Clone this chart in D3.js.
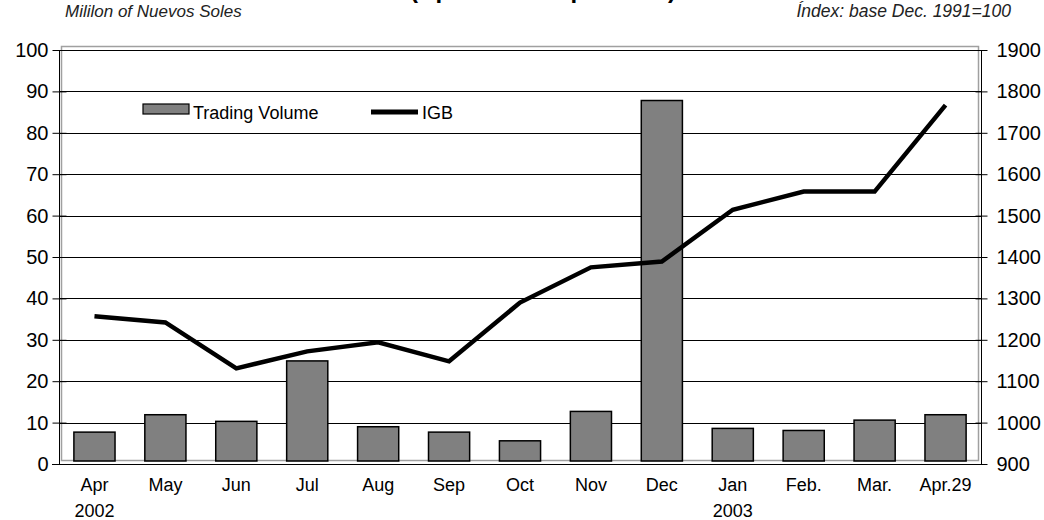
<!DOCTYPE html>
<html>
<head>
<meta charset="utf-8">
<script src="https://cdn.jsdelivr.net/npm/d3@7"></script>
<style>
    body { margin: 0; background: #fff; }
    text { font-family: Arial, "Liberation Sans", sans-serif; }
</style>
</head>
<body>
<script>
//chart data
var months = ["Apr", "May", "Jun", "Jul", "Aug", "Sep", "Oct", "Nov", "Dec", "Jan", "Feb.", "Mar.", "Apr.29"];
var years = ["2002", "", "", "", "", "", "", "", "", "2003", "", "", ""];
var volume = [7.7, 11.9, 10.3, 24.9, 9.0, 7.7, 5.6, 12.7, 87.8, 8.6, 8.1, 10.6, 11.9];
var igb = [1257, 1242, 1131, 1172, 1194, 1148, 1290, 1375, 1389, 1514, 1558, 1558, 1767];
var leftTicks = [0, 10, 20, 30, 40, 50, 60, 70, 80, 90, 100];
var rightTicks = [900, 1000, 1100, 1200, 1300, 1400, 1500, 1600, 1700, 1800, 1900];

window.onload = setChart();

function setChart(){

    //svg dimensions
    var width = 1044,
        height = 520;

    var svg = d3.select("body")
        .append("svg")
        .attr("width", width)
        .attr("height", height);

    //plot area edges
    var left = 59, right = 981, top = 50, bottom = 464;

    var x = d3.scaleBand()
        .domain(months)
        .range([left, right])
        .paddingInner(0.42)
        .paddingOuter(0.21);

    var yLeft = d3.scaleLinear()
        .domain([0, 100])
        .range([bottom, top]);

    var yRight = d3.scaleLinear()
        .domain([900, 1900])
        .range([bottom, top]);

    //title (cut off at the top, as in the source)
    svg.append("text")
        .attr("x", 543)
        .attr("y", -2)
        .attr("text-anchor", "middle")
        .style("font-size", "24px")
        .style("font-weight", "bold")
        .text("(April 2002 - April 2003)");

    svg.append("text")
        .attr("x", 65)
        .attr("y", 17)
        .style("font-size", "17px")
        .style("font-style", "italic")
        .attr("fill", "#222")
        .text("Mililon of Nuevos Soles");

    svg.append("text")
        .attr("x", 1011)
        .attr("y", 17)
        .attr("text-anchor", "end")
        .style("font-size", "17.5px")
        .style("font-style", "italic")
        .attr("fill", "#222")
        .text("Índex: base Dec. 1991=100");

    //gray plot area frame
    svg.append("rect")
        .attr("x", left + 2.5)
        .attr("y", top - 3.5)
        .attr("width", right - left - 5)
        .attr("height", bottom - top)
        .attr("fill", "none")
        .attr("stroke", "#a0a0a0")
        .attr("stroke-width", 1.5);

    //gridlines
    svg.append("g")
        .selectAll("line")
        .data(leftTicks.slice(1))
        .enter()
        .append("line")
        .attr("x1", left)
        .attr("x2", right)
        .attr("y1", function(d){ return Math.round(yLeft(d)) + 0.5; })
        .attr("y2", function(d){ return Math.round(yLeft(d)) + 0.5; })
        .attr("stroke", "#000")
        .attr("stroke-width", 1);

    //left axis
    var axisL = svg.append("g")
        .attr("transform", "translate(" + (left + 0.5) + ",0)")
        .call(d3.axisLeft(yLeft).tickValues(leftTicks).tickSize(7).tickPadding(4));
    axisL.selectAll(".tick line").attr("x2", -7).attr("x1", 7);

    //right axis
    var axisR = svg.append("g")
        .attr("transform", "translate(" + (right + 0.5) + ",0)")
        .call(d3.axisRight(yRight).tickValues(rightTicks).tickFormat(d3.format("d")).tickSize(6).tickPadding(9));
    axisR.selectAll(".tick line").attr("x1", -6);

    [axisL, axisR].forEach(function(a){
        a.select(".domain").attr("d", "M0," + top + "V" + bottom);
        a.selectAll("text").style("font-size", "20px").attr("fill", "#000");
    });

    //bars
    svg.append("g")
        .selectAll("rect")
        .data(volume)
        .enter()
        .append("rect")
        .attr("x", function(d, i){ return x(months[i]); })
        .attr("y", function(d){ return yLeft(d); })
        .attr("width", x.bandwidth())
        .attr("height", function(d){ return yLeft(0) - yLeft(d) - 3; })
        .attr("fill", "#808080")
        .attr("stroke", "#000")
        .attr("stroke-width", 1.5);

    //bottom axis line
    svg.append("line")
        .attr("x1", left - 7)
        .attr("x2", right + 6)
        .attr("y1", bottom + 0.5)
        .attr("y2", bottom + 0.5)
        .attr("stroke", "#000");

    //category labels
    var labels = svg.append("g")
        .selectAll("g")
        .data(months)
        .enter()
        .append("g")
        .attr("transform", function(d){ return "translate(" + (x(d) + x.bandwidth() / 2) + ",0)"; });

    labels.append("text")
        .attr("y", 491)
        .attr("text-anchor", "middle")
        .style("font-size", "18px")
        .text(function(d){ return d; });

    labels.append("text")
        .attr("y", 517)
        .attr("text-anchor", "middle")
        .style("font-size", "18px")
        .text(function(d, i){ return years[i]; });

    //IGB line
    var line = d3.line()
        .x(function(d, i){ return x(months[i]) + x.bandwidth() / 2; })
        .y(function(d){ return yRight(d); });

    svg.append("path")
        .datum(igb)
        .attr("d", line)
        .attr("fill", "none")
        .attr("stroke", "#000")
        .attr("stroke-width", 4.5)
        .attr("stroke-linejoin", "miter");

    //legend
    var legend = svg.append("g");

    legend.append("rect")
        .attr("x", 143)
        .attr("y", 104)
        .attr("width", 46)
        .attr("height", 10)
        .attr("fill", "#808080")
        .attr("stroke", "#000")
        .attr("stroke-width", 1.2);

    legend.append("text")
        .attr("x", 193)
        .attr("y", 119)
        .style("font-size", "18px")
        .text("Trading Volume");

    legend.append("line")
        .attr("x1", 371)
        .attr("x2", 418)
        .attr("y1", 112)
        .attr("y2", 112)
        .attr("stroke", "#000")
        .attr("stroke-width", 5);

    legend.append("text")
        .attr("x", 422)
        .attr("y", 119)
        .style("font-size", "18px")
        .text("IGB");
}
</script>
</body>
</html>
